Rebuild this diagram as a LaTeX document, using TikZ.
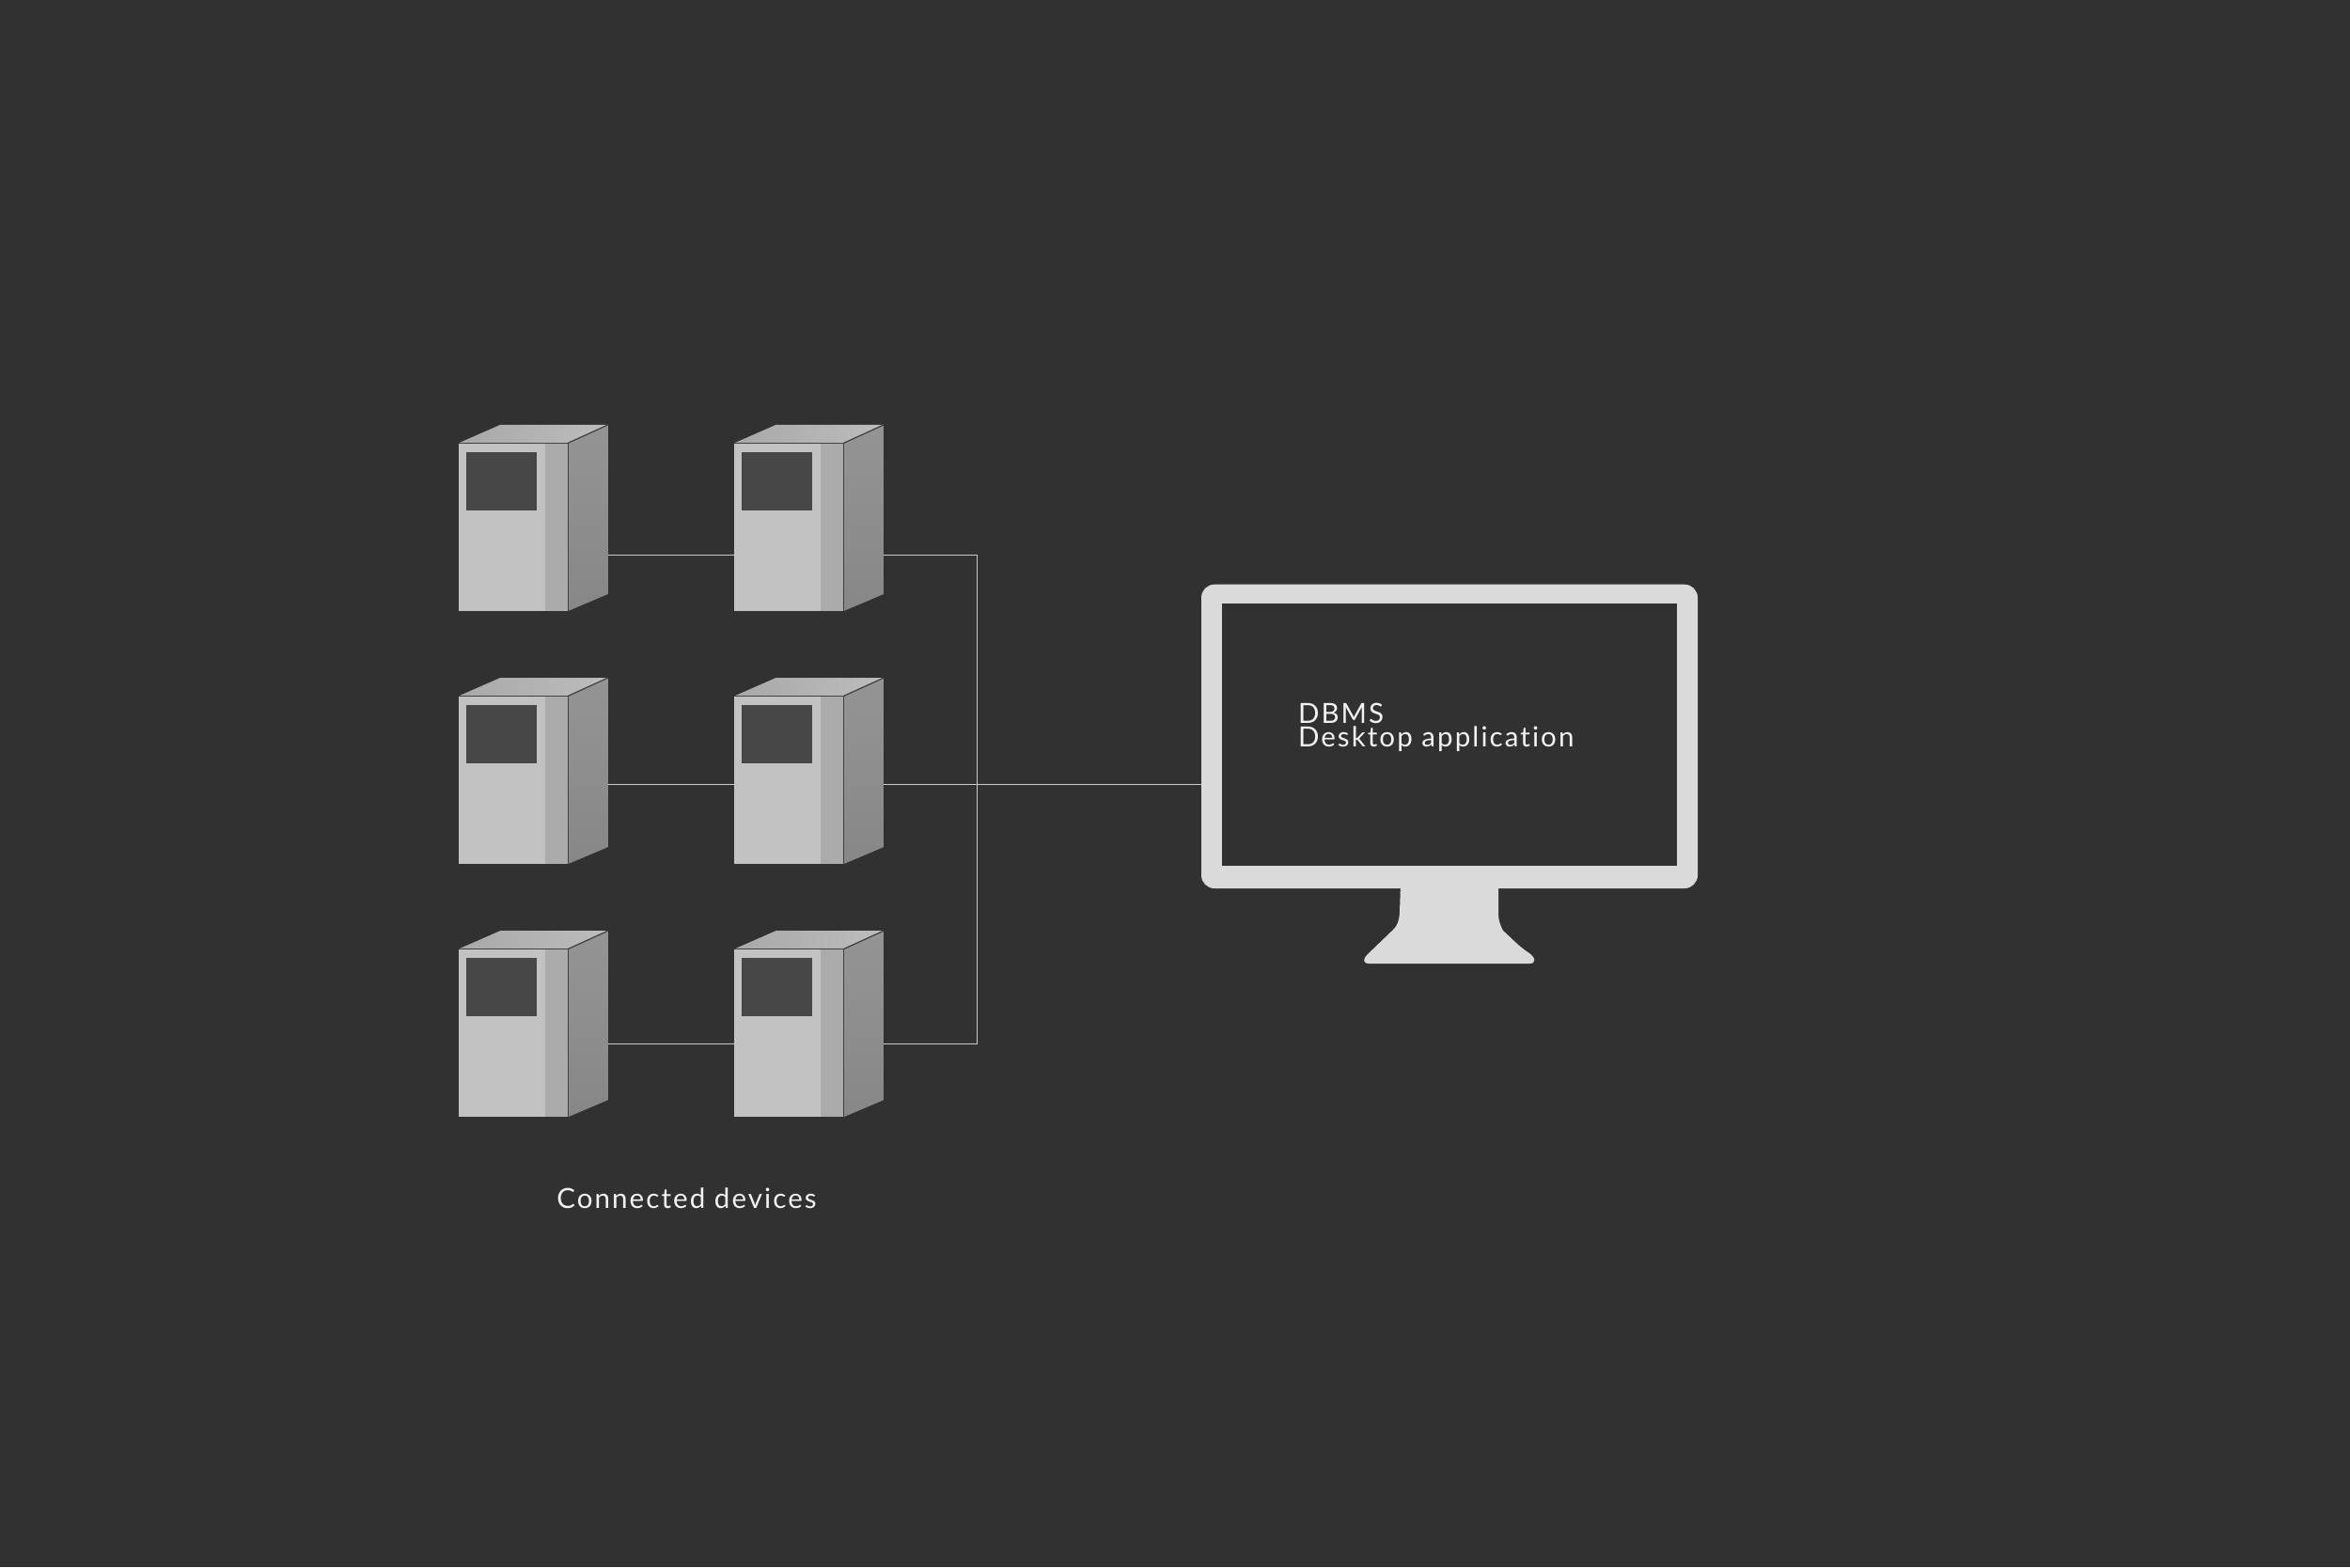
\documentclass[tikz,border=0pt]{standalone}
\usepackage{fontspec}
\newfontfamily\labelfont[LetterSpace=7,Ligatures=NoCommon]{Lato}
\usetikzlibrary{positioning, calc}

\definecolor{bgDark}{HTML}{313131}
\definecolor{wireGray}{HTML}{CACACA}
\definecolor{screenGray}{HTML}{DADADA}

\begin{document}
\begin{tikzpicture}[
        y=-1cm,
        % Style for the front face of a device
        devFront/.style={
            rectangle, fill=black!24, inner sep=0pt, outer sep=0pt,
            minimum width=1.163cm, minimum height=1.787cm
        },
        % Style for the window on the front face
        devWindow/.style={
            rectangle, fill=black!72, inner sep=0pt, outer sep=0pt,
            minimum width=0.75cm, minimum height=0.617cm
        },
        % Monitor frame and screen
        monitorBox/.style={
            rectangle, fill=screenGray, inner sep=0pt, outer sep=0pt,
            rounded corners=0.14cm
        },
        screenBox/.style={
            rectangle, fill=bgDark, inner sep=0pt, outer sep=0pt
        },
        wire/.style={draw=wireGray, line width=0.4pt},
        edgeLine/.style={draw=black!75, line width=0.35pt},
        caption/.style={
            text=white!95!black, inner sep=0pt, outer sep=0pt, align=left,
            font=\labelfont\fontsize{8.4}{7.1}\selectfont
        }
    ]

        % --- Background ---
        \fill [bgDark] (0,0) rectangle (25,16.67);
        \useasboundingbox (0,0) rectangle (25,16.67);

        % --- Nodes ---

        % 1. The Devices (three rows, two columns)
        \foreach \row/\ypos/\wirey in {1/5.606/0.297, 2/8.297/0.046, 3/10.988/0.117} {
            \foreach \col/\xpos in {1/5.462, 2/8.395} {
                \node [devFront] (front\row\col) at (\xpos, \ypos) {};

                % Top and side faces
                \path [left color=black!34, right color=black!26]
                    (front\row\col.north west) -- ++(0.44,-0.193) -- ++(1.147,0)
                    -- (front\row\col.north east) -- cycle;
                \path [top color=black!42, bottom color=black!47]
                    (front\row\col.north east) -- ++(0.424,-0.193) -- ++(0,1.8)
                    -- (front\row\col.south east) -- cycle;

                % Darker band at the right of the front face
                \fill [black!33]
                    ($(front\row\col.north east)+(-0.243,0)$) rectangle (front\row\col.south east);
                \draw [edgeLine] (front\row\col.north west) -- (front\row\col.north east)
                    -- (front\row\col.south east);
                \draw [edgeLine] (front\row\col.north east) -- ++(0.424,-0.193);

                \node [devWindow, anchor=north west] (window\row\col)
                    at ($(front\row\col.north west)+(0.08,0.097)$) {};

                % Where the wire leaves the side face
                \coordinate (port\row\col) at ($(front\row\col.east)+(0.424,\wirey)$);
            }
        }

        % 2. The Monitor
        \path [fill=screenGray]
            (14.9,9.4) -- (14.89,9.7) .. controls (14.885,9.8) and (14.86,9.86) .. (14.81,9.9)
            -- (14.55,10.15) .. controls (14.5,10.2) and (14.49,10.25) .. (14.57,10.25)
            -- (16.27,10.25) .. controls (16.35,10.25) and (16.34,10.18) .. (16.24,10.12)
            .. controls (16.14,10.05) and (16.05,9.95) .. (15.99,9.9)
            .. controls (15.96,9.84) and (15.94,9.8) .. (15.94,9.7) -- (15.94,9.4) -- cycle;
        \node [monitorBox, minimum width=5.28cm, minimum height=3.233cm] (monitor) at (15.42,7.8335) {};
        \node [screenBox, minimum width=4.84cm, minimum height=2.793cm] (screen) at (15.42,7.8135) {};

        \node [caption, anchor=north west] (dbms) at (13.81,7.48) {DBMS\\Desktop application};
        \node [caption, anchor=base] (devices) at (7.305,12.85) {Connected devices};

        % --- Edges ---
        \coordinate (busTop) at (10.395,5.903);
        \path [wire] (port11) -- (front12.west |- port11);
        \path [wire] (port21) -- (front22.west |- port21);
        \path [wire] (port31) -- (front32.west |- port31);
        \path [wire] (port12) -- (busTop |- port12) -- (busTop |- port32) -- (port32);
        \path [wire] (port22) -- (monitor.west |- port22);

    \end{tikzpicture}
\end{document}
